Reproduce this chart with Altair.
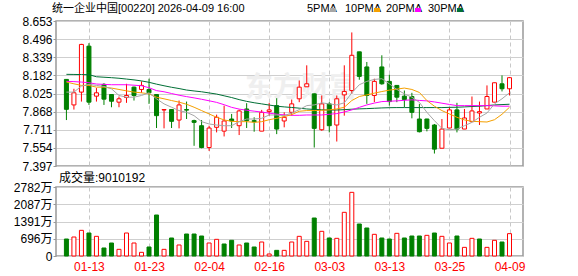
import altair as alt
import pandas as pd

dates = ["01-08","01-09","01-12","01-13","01-14","01-15","01-16","01-19","01-20","01-21",
         "01-22","01-23","01-26","01-27","01-28","01-29","01-30","02-02","02-03","02-04",
         "02-05","02-06","02-09","02-10","02-11","02-12","02-13","02-16","02-20","02-23",
         "02-24","02-25","02-26","02-27","03-02","03-03","03-04","03-05","03-06","03-09",
         "03-10","03-11","03-12","03-13","03-16","03-17","03-18","03-19","03-20","03-23",
         "03-24","03-25","03-26","03-27","03-30","03-31","04-01","04-02","04-08","04-09"]

opens = [8.147,7.926,8.037,8.435,8.002,8.104,8.016,7.950,7.990,8.080,
         8.060,8.060,8.016,7.882,7.886,7.795,7.886,7.790,7.746,7.557,
         7.732,7.699,7.804,7.746,7.891,7.790,7.699,7.868,7.920,7.787,
         7.862,7.979,8.083,8.022,7.711,7.935,7.752,8.013,8.051,8.386,
         8.255,8.008,8.255,8.130,8.095,8.002,7.999,7.804,7.804,7.752,
         7.551,7.726,7.883,7.717,7.781,7.856,7.891,7.950,8.109,8.066]
highs = [8.147,8.066,8.455,8.461,8.072,8.115,8.020,7.999,8.109,8.085,
         8.130,8.153,8.020,7.889,7.889,7.964,7.955,7.798,7.795,7.746,
         7.842,7.920,7.848,7.886,7.941,7.819,7.883,7.944,7.984,7.862,
         7.973,8.138,8.269,8.025,8.008,7.950,8.008,8.269,8.554,8.386,
         8.298,8.153,8.356,8.188,8.097,8.051,8.031,7.935,7.806,7.761,
         7.804,7.906,7.944,7.891,7.999,7.955,8.095,8.118,8.182,8.168]
lows = [7.795,7.886,7.955,7.926,7.955,7.926,7.906,7.906,7.944,7.964,
        8.031,7.935,7.726,7.723,7.726,7.723,7.804,7.572,7.550,7.528,
        7.688,7.653,7.726,7.665,7.726,7.694,7.699,7.833,7.673,7.732,
        7.833,7.950,8.083,7.557,7.702,7.688,7.609,7.833,8.022,8.144,
        7.935,7.950,8.101,7.920,7.950,7.906,7.810,7.688,7.697,7.505,
        7.551,7.726,7.688,7.717,7.781,7.752,7.891,7.950,8.043,8.008]
closes = [7.888,8.031,8.450,7.950,8.031,7.976,7.958,7.979,8.008,8.008,
          8.095,8.031,7.833,7.886,7.784,7.926,7.881,7.775,7.557,7.726,
          7.819,7.787,7.787,7.874,7.790,7.781,7.862,7.883,7.717,7.819,
          7.935,8.080,8.109,7.723,7.935,7.746,7.979,8.043,8.356,8.173,
          8.008,8.130,8.109,7.955,7.993,7.973,7.862,7.694,7.723,7.543,
          7.717,7.883,7.717,7.813,7.874,7.868,7.999,8.118,8.066,8.162]

# volume in units of 10,000 shares (万)
volumes = [685,766,1035,927,793,323,524,269,927,524,
           148,363,1653,269,726,444,887,887,806,524,
           672,484,632,444,524,363,564,81,228,228,
           564,793,591,1532,995,726,712,1761,2567,1290,
           1129,874,726,685,914,726,806,806,833,927,
           793,524,806,349,712,685,349,632,564,901]
vol_up = [0,1,1,0,1,0,0,1,1,1,
          1,0,0,1,0,1,0,0,0,1,
          1,0,0,1,0,0,1,1,0,1,
          1,1,1,0,1,0,1,1,1,0,
          0,1,0,0,1,0,0,0,1,0,
          1,1,0,1,1,0,1,1,0,1]

ma5 = [8.037,8.037,8.089,8.104,8.095,8.086,8.066,8.008,7.993,7.993,
       8.008,8.031,7.979,7.935,7.906,7.877,7.862,7.833,7.781,7.761,
       7.752,7.746,7.746,7.781,7.804,7.804,7.810,7.839,7.839,7.833,
       7.856,7.885,7.920,7.926,7.944,7.935,7.926,7.944,8.031,8.101,
       8.130,8.147,8.153,8.109,8.060,8.022,7.993,7.948,7.862,7.790,
       7.723,7.711,7.717,7.746,7.775,7.819,7.856,7.935,7.979,8.031]
ma10 = [8.124,8.109,8.095,8.095,8.080,8.080,8.072,8.060,8.048,8.037,
        8.031,8.022,7.993,7.979,7.964,7.950,7.932,7.906,7.877,7.848,
        7.819,7.796,7.784,7.781,7.781,7.775,7.781,7.798,7.810,7.825,
        7.842,7.871,7.877,7.877,7.880,7.883,7.891,7.906,7.964,7.999,
        8.013,8.028,8.042,8.054,8.063,8.072,8.060,8.034,7.964,7.915,
        7.877,7.848,7.819,7.796,7.784,7.781,7.778,7.798,7.845,7.906]
ma20 = [8.130,8.128,8.124,8.118,8.107,8.104,8.101,8.101,8.101,8.097,
        8.092,8.075,8.050,8.040,8.025,8.010,7.998,7.987,7.975,7.962,
        7.948,7.928,7.905,7.890,7.880,7.872,7.864,7.855,7.846,7.840,
        7.836,7.836,7.839,7.839,7.839,7.845,7.851,7.865,7.883,7.905,
        7.926,7.942,7.955,7.958,7.961,7.966,7.970,7.965,7.961,7.952,
        7.941,7.930,7.920,7.920,7.920,7.920,7.920,7.918,7.915,7.915]
ma30 = [8.191,8.190,8.189,8.188,8.170,8.166,8.162,8.157,8.150,8.143,
        8.134,8.122,8.106,8.092,8.079,8.068,8.055,8.047,8.040,8.030,
        8.020,8.005,7.990,7.972,7.957,7.945,7.935,7.925,7.915,7.909,
        7.904,7.898,7.891,7.887,7.884,7.882,7.882,7.885,7.889,7.892,
        7.894,7.897,7.900,7.902,7.903,7.903,7.903,7.903,7.903,7.903,
        7.903,7.905,7.906,7.909,7.912,7.915,7.920,7.926,7.929,7.932]

price_ticks = [7.397, 7.554, 7.711, 7.868, 8.025, 8.182, 8.339, 8.496, 8.653]
vol_ticks = [0, 696, 1391, 2087, 2782]
date_ticks = ["01-13", "01-23", "02-04", "02-16", "03-03", "03-13", "03-25", "04-09"]
title_text = "统一企业中国[00220] 2026-04-09 16:00"
vol_title = "成交量:9010192"
ma_names = ["5PMA", "10PMA", "20PMA", "30PMA"]
ma_colors = ["#a6a6a6", "#f5a000", "#ff00ff", "#006f35"]

RED = "#ff0000"
GREEN = "#008000"
W = 467
FONT = "Liberation Sans, Noto Sans CJK SC"

n = len(dates)
df = pd.DataFrame({"i": list(range(n)), "date": dates, "open": opens, "high": highs,
                   "low": lows, "close": closes, "ma5": ma5, "ma10": ma10,
                   "ma20": ma20, "ma30": ma30})
vdf = pd.DataFrame({"i": list(range(n)), "vol": volumes, "up": vol_up})

tick_idx = [dates.index(d) for d in date_ticks]
date_arr = "[" + ",".join("'%s'" % d for d in dates) + "]"

xscale = alt.Scale(domain=[-0.72, 60.13], nice=False, zero=False)
pscale = alt.Scale(domain=[price_ticks[0], price_ticks[-1]], nice=False, zero=False)

x_axis = alt.Axis(values=tick_idx, labels=False, ticks=False, domain=False,
                  grid=True, gridDash=[4, 3], gridColor="#c8c8c8")
y_axis = alt.Axis(values=price_ticks, format=".3f", domain=False, tickSize=3,
                  tickColor="#999", labelPadding=1, grid=True,
                  gridColor="#cfcfcf", labelOverlap=False, tickCount=9)


def X(field):
    return alt.X(field, scale=xscale, title=None, axis=x_axis)


def Y(field):
    return alt.Y(field, scale=pscale, title=None, axis=y_axis)


up_test = alt.datum.close >= alt.datum.open

wm = alt.Chart(pd.DataFrame({"t": ["东方财富"]})).mark_text(
    font="Noto Sans CJK SC", fontSize=28, fontWeight="bold", color="#efefef",
    align="center", baseline="middle").encode(
    x=alt.value(245), y=alt.value(68), text="t:N")

wick = alt.Chart(df).mark_rule(strokeWidth=1).encode(
    x=X("i:Q"), y=Y("low:Q"), y2="high:Q",
    color=alt.condition(up_test, alt.value(RED), alt.value(GREEN)))

body = alt.Chart(df).mark_bar(size=4, strokeWidth=1).encode(
    x=X("i:Q"), y=Y("open:Q"), y2="close:Q",
    fill=alt.condition(up_test, alt.value("white"), alt.value(GREEN)),
    stroke=alt.condition(up_test, alt.value(RED), alt.value(GREEN)))

ma_layers = []
for col, colr in zip(["ma30", "ma20", "ma10", "ma5"], ma_colors[::-1]):
    ma_layers.append(alt.Chart(df).mark_line(strokeWidth=1, color=colr).encode(
        x=X("i:Q"), y=Y(col + ":Q")))

title_layer = alt.Chart(pd.DataFrame({"t": [title_text]})).mark_text(
    font=FONT, fontSize=11, align="left", baseline="middle", color="#000").encode(
    x=alt.value(-4), y=alt.value(-12), text="t:N")

legend_layers = []
lx = [251, 289, 330, 372]
for name, colr, x0 in zip(ma_names, ma_colors, lx):
    legend_layers.append(alt.Chart(pd.DataFrame({"t": [name]})).mark_text(
        font="Liberation Sans Narrow, Liberation Sans", fontSize=11, align="left",
        baseline="middle", color="#000").encode(
        x=alt.value(x0), y=alt.value(-12), text="t:N"))
    wdt = 23 if name == "5PMA" else 29
    legend_layers.append(alt.Chart(pd.DataFrame({"t": [name]})).mark_rect(color=colr).encode(
        x=alt.value(x0 + wdt), x2=alt.value(x0 + wdt + 6),
        y=alt.value(-13), y2=alt.value(-9)))

price = alt.layer(wm, wick, body, *ma_layers, title_layer, *legend_layers).properties(
    width=W, height=145)

vbars = alt.Chart(vdf).mark_bar(size=4, strokeWidth=1).encode(
    x=alt.X("i:Q", scale=xscale, title=None,
            axis=alt.Axis(values=tick_idx, labelExpr=date_arr + "[datum.value]",
                          ticks=False, domain=False, grid=True, gridDash=[4, 3],
                          gridColor="#c8c8c8", labelColor=RED, labelFontSize=12,
                          labelPadding=5, labelOverlap=False)),
    y=alt.Y("vol:Q", scale=alt.Scale(domain=[0, vol_ticks[-1]], nice=False), title=None,
            axis=alt.Axis(values=vol_ticks,
                          labelExpr="datum.value == 0 ? '0' : datum.value + '万'",
                          domain=False, tickSize=3, tickColor="#999", labelPadding=1,
                          grid=True, gridColor="#cfcfcf", labelOverlap=False)),
    fill=alt.condition(alt.datum.up == 1, alt.value("white"), alt.value(GREEN)),
    stroke=alt.condition(alt.datum.up == 1, alt.value(RED), alt.value(GREEN)))

vtitle = alt.Chart(pd.DataFrame({"t": [vol_title]})).mark_text(
    font=FONT, fontSize=12, align="left", baseline="middle", color="#000").encode(
    x=alt.value(3), y=alt.value(-9), text="t:N")

volume = alt.layer(vbars, vtitle).properties(width=W, height=69)

chart = alt.vconcat(price, volume, spacing=21, bounds="flush").properties(
    padding={"left": 12, "top": 2, "right": 5, "bottom": 5},
    background="white"
).configure_view(stroke="#999", strokeWidth=1.5).configure_axis(
    labelFont=FONT, labelFontSize=12, labelColor="#000", labelOverlap=False)

chart.save("out.html", embed_options={"renderer": "svg", "actions": False})
